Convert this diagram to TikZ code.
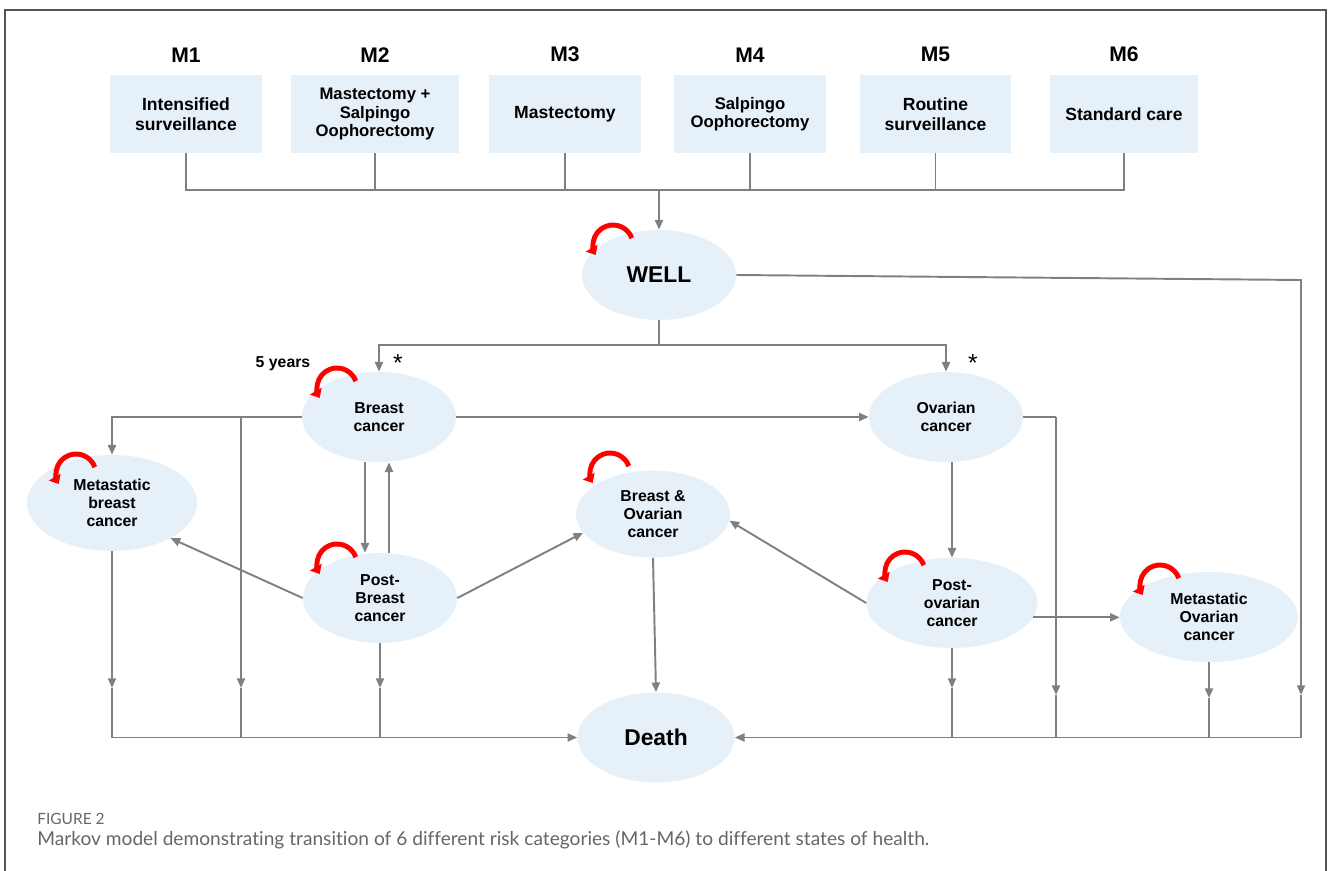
\documentclass[tikz,border=0pt]{standalone}
\usepackage{fontspec}
\setmainfont{Liberation Sans}
\newfontfamily\captionfont[Ligatures={NoCommon,NoContextual}]{Lato}
\usetikzlibrary{shapes.geometric,arrows.meta,positioning,calc}

\definecolor{boxblue}{HTML}{E6F0F8}
\definecolor{linegrey}{HTML}{808080}
\definecolor{loopred}{HTML}{FF0000}
\definecolor{framegrey}{HTML}{555555}
\definecolor{capgrey}{HTML}{666666}

\tikzset{
  riskbox/.style={fill=boxblue, minimum width=3.04cm, minimum height=1.56cm, inner sep=2pt, align=center, font=\bfseries\fontsize{10}{11.5}\selectfont},
  risklabel/.style={inner sep=0pt, font=\bfseries\fontsize{12}{14}\selectfont},
  state/.style={ellipse, fill=boxblue, minimum width=3.08cm, minimum height=1.8cm, inner sep=0pt, align=center, font=\bfseries\fontsize{9}{10.2}\selectfont},
  bigstate/.style={state, font=\bfseries\fontsize{13}{15}\selectfont},
  link/.style={draw=linegrey, line width=1.1pt},
  arr/.style={link, -{Triangle[length=5.5pt,width=4.6pt]}},
  selfarrow/.style={draw=loopred, line width=2.8pt, -{Triangle[length=4.5pt,width=7.5pt]}},
}

\begin{document}
\begin{tikzpicture}[x=0.02cm, y=-0.02cm]
     \useasboundingbox (0,0) rectangle (1328,871);
     \draw[framegrey, line width=0.8pt] (5,871) -- (5,10) -- (1326,10) -- (1326,871);

     % risk categories
     \node[riskbox] (m1) at (186,114) {Intensified\\surveillance};
     \node[riskbox, minimum width=3.36cm, font=\bfseries\fontsize{9.5}{10.5}\selectfont] (m2) at (375,114) {Mastectomy +\\Salpingo\\Oophorectomy};
     \node[riskbox] (m3) at (565,114) {Mastectomy};
     \node[riskbox, font=\bfseries\fontsize{9.5}{10.5}\selectfont] (m4) at (750,114) {Salpingo\\Oophorectomy};
     \node[riskbox] (m5) at (935.5,114) {Routine\\surveillance};
     \node[riskbox, minimum width=2.96cm] (m6) at (1124,114) {Standard care};
     \foreach \i in {1,...,6}
       \node[risklabel, above=7pt of m\i] (lab\i) {M\i};

     % health states
     \node[bigstate] (well) at (659,275) {WELL};
     \node[state] (breast) at (379,417) {Breast\\cancer};
     \node[state] (ovar) at (946,417) {Ovarian\\cancer};
     \node[state, minimum width=3.4cm, minimum height=1.92cm] (metb) at (112,503) {Metastatic\\breast\\cancer};
     \node[state, minimum height=1.74cm] (bo) at (653,514) {Breast \&\\Ovarian\\cancer};
     \node[state] (postb) at (380,598) {Post-\\Breast\\cancer};
     \node[state, minimum width=3.42cm] (postov) at (952,603) {Post-\\ovarian\\cancer};
     \node[state, minimum width=3.56cm] (metov) at (1209,617) {Metastatic\\Ovarian\\cancer};
     \node[bigstate, minimum width=3.14cm] (death) at (656,737.5) {Death};

     \node[font=\bfseries\fontsize{9}{10}\selectfont] (fiveyr) at (283,364) {5 years};
     \node[font=\fontsize{14}{14}\selectfont] (star1) at (398,363) {*};
     \node[font=\fontsize{14}{14}\selectfont] (star2) at (973,363) {*};

     % categories into WELL
     \coordinate (bus) at (187,190);
     \draw[link] (m1.south) -- (m1.south |- bus) -| (m6.south);
     \foreach \i in {2,...,5}
       \draw[link] (m\i.south) -- (m\i.south |- bus);
     \draw[arr] (bus -| well.north) -- (well.north);

     % WELL
     \coordinate (split) at (659,345);
     \draw[link] (well.south) -- (split);
     \draw[arr] (split) -| (breast.north);
     \draw[arr] (split) -| (ovar.north);
     \coordinate (rtop) at (1301,280);
     \coordinate (rbot) at (1301,737.5);
     \draw[arr] (well.east) -- (rtop) -- (1301,695);
     \draw[arr] (1301,695) -- (rbot) -- (death.east);

     % breast side
     \coordinate (branch) at (241,417);
     \draw[arr] (breast.east) -- (ovar.west);
     \draw[arr] (breast.west) -| (metb.north);
     \draw[arr] (branch) -- (241,688);
     \draw[link] (241,688) -- (branch |- death.west);
     \draw[arr] ($(breast.south)+(-14,0)$) -- ($(postb.north)+(-15,0)$);
     \draw[arr] ($(postb.north)+(9,0)$) -- ($(breast.south)+(10,0)$);
     \draw[arr] (postb.west) -- (metb.-31);
     \draw[arr] (postb.east) -- (bo.195);
     \draw[arr] (metb.south) -- (metb.south |- 0,688);
     \draw[arr] (metb.south |- 0,688) |- (death.west);
     \draw[arr] (postb.south) -- (postb.south |- 0,688);
     \draw[link] (postb.south |- 0,688) -- (postb.south |- death.west);

     % ovarian side
     \draw[arr] (ovar.south -| postov.north) -- (postov.north);
     \draw[link] (ovar.east) -- (1056,417);
     \draw[arr] (1056,417) -- (1056,695);
     \draw[link] (1056,695) -- (1056,737.5);
     \draw[arr] (postov.west) -- (bo.-5);
     \draw[arr] (postov.-10) -- (postov.-10 -| metov.west);
     \draw[arr] (postov.south) -- (postov.south |- 0,688);
     \draw[link] (postov.south |- 0,688) -- (postov.south |- death.west);
     \draw[arr] (metov.south) -- (metov.south |- 0,698);
     \draw[link] (metov.south |- 0,698) -- (metov.south |- death.west);
     \draw[arr] (bo.south) -- (death.north);

     % staying in the same state
     \draw[selfarrow] ($(well)+(-46,-30)$) ++(-20:20) arc[start angle=-20, end angle=-210, radius=20];
     \draw[selfarrow] ($(breast)+(-42,-29)$) ++(-20:20) arc[start angle=-20, end angle=-210, radius=20];
     \draw[selfarrow] ($(metb)+(-36,-29)$) ++(-20:20) arc[start angle=-20, end angle=-210, radius=20];
     \draw[selfarrow] ($(postb)+(-43,-34)$) ++(-20:20) arc[start angle=-20, end angle=-210, radius=20];
     \draw[selfarrow] ($(bo)+(-43,-41)$) ++(-20:20) arc[start angle=-20, end angle=-210, radius=20];
     \draw[selfarrow] ($(postov)+(-47,-31)$) ++(-20:20) arc[start angle=-20, end angle=-210, radius=20];
     \draw[selfarrow] ($(metov)+(-49,-32)$) ++(-20:20) arc[start angle=-20, end angle=-210, radius=20];

     % caption
     \node[anchor=west, inner sep=0pt, text=capgrey, font=\captionfont\fontsize{8.8}{10}\selectfont] (figno) at (37,819) {FIGURE 2};
     \node[anchor=west, inner sep=0pt, text=capgrey, font=\captionfont\fontsize{10.9}{13}\selectfont] (caption) at (37,840) {Markov model demonstrating transition of 6 different risk categories (M1-M6) to different states of health.};
\end{tikzpicture}
\end{document}
